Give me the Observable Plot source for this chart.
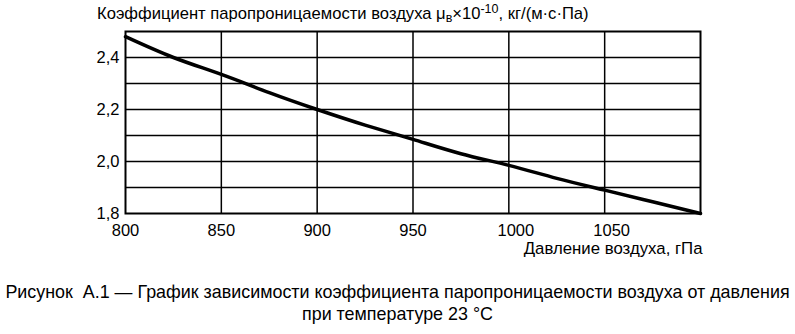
<!DOCTYPE html>
<html><head><meta charset="utf-8">
<script src="https://cdn.jsdelivr.net/npm/d3@7"></script>
<script src="https://cdn.jsdelivr.net/npm/@observablehq/plot@0.6"></script>
<style>
body{margin:0;background:#fff;font-family:"Liberation Sans",Arial,sans-serif;}
#wrap{position:relative;width:795px;height:334px;overflow:hidden;}
#title{position:absolute;left:97px;top:5px;font-size:16.6px;line-height:18px;white-space:nowrap;color:#000;}
#title sub{font-size:12.5px;vertical-align:-3px;line-height:0;}
#title sup{font-size:12.5px;vertical-align:6px;line-height:0;}
#chart{position:absolute;left:0;top:0;}
#cap{position:absolute;left:0;width:795px;top:281px;text-align:center;font-family:"Liberation Sans Narrow","Arial Narrow","Liberation Sans",sans-serif;font-size:17.9px;line-height:22px;color:#000;white-space:nowrap;}
</style></head>
<body><div id="wrap">
<div id="chart"></div>
<div id="title">Коэффициент паропроницаемости воздуха μ<sub>в</sub>×10<sup>-10</sup>, кг/(м·с·Па)</div>
<div id="cap">Рисунок&nbsp; А.1 — График зависимости коэффициента паропроницаемости воздуха от давления<br>при температуре 23 °С</div>
</div>
<script>
const pressure = [800, 825, 850, 875, 900, 925, 950, 975, 1000, 1025, 1050, 1075, 1100];
const mu = [2.48, 2.40, 2.335, 2.265, 2.20, 2.14, 2.085, 2.03, 1.985, 1.935, 1.89, 1.845, 1.80];
const xTicksShort = [800, 850, 900, 950];
const xTicksLong = [1000, 1050];
const yTickLabels = [1.8, 2.0, 2.2, 2.4];
const yGrid = [1.9, 2.0, 2.1, 2.2, 2.3, 2.4];
const xGrid = [850, 900, 950, 1000, 1050];
const xLabel = "Давление воздуха, гПа";

const data = pressure.map((p, i) => ({p, v: mu[i]}));
const fmtY = d => d.toFixed(1).replace(".", ",");
const fmtX = d => String(d);

const chart = Plot.plot({
  width: 795, height: 260,
  marginLeft: 125, marginRight: 95, marginTop: 31, marginBottom: 47,
  style: {fontFamily: "'Liberation Sans', Arial, sans-serif", fontSize: "16.5px", color: "#000", background: "#fff"},
  x: {domain: [800, 1100]},
  y: {domain: [1.8, 2.5]},
  marks: [
    Plot.ruleY(yGrid, {stroke: "#000", strokeWidth: 1.5}),
    Plot.ruleX(xGrid, {stroke: "#000", strokeWidth: 1.5}),
    Plot.axisX({ticks: xTicksShort, tickSize: 0, tickPadding: 11, tickFormat: fmtX, label: null, fontSize: 16.5}),
    Plot.axisX({ticks: xTicksLong, tickSize: 0, tickPadding: 11, tickFormat: fmtX, label: null, fontSize: 16.5, dx: 7}),
    Plot.axisY({ticks: yTickLabels, tickSize: 0, tickPadding: 6, tickFormat: fmtY, label: null, fontSize: 16.5}),
    Plot.text([xLabel], {frameAnchor: "bottom-right", dy: 40, dx: 2, textAnchor: "end", fontSize: 16.8}),
    Plot.line(data, {x: "p", y: "v", stroke: "#000", strokeWidth: 3.5, curve: "natural"}),
    Plot.frame({stroke: "#000", strokeWidth: 2})
  ]
});
document.getElementById("chart").appendChild(chart);
</script>
</body></html>
